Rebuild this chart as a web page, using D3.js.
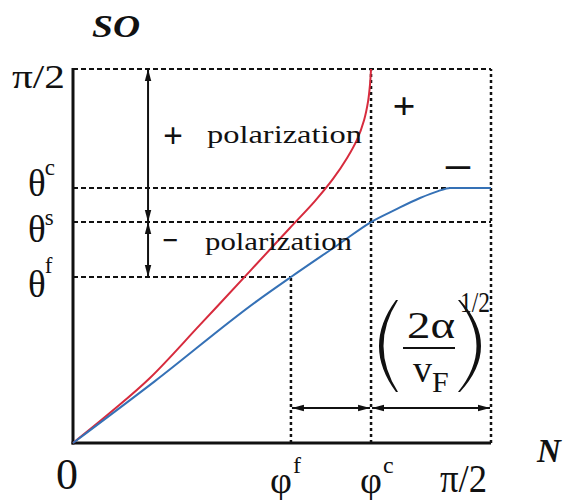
<!DOCTYPE html>
<html>
<head>
<meta charset="utf-8">
<script src="https://cdn.jsdelivr.net/npm/d3@7"></script>
<style>
  body { margin: 0; background: #fff; }
  svg { display: block; }
  text { font-family: "Liberation Serif", "Tinos", "Noto Serif", "FreeSerif", "Nimbus Roman", "Times New Roman", Times, "DejaVu Serif", serif; }
</style>
</head>
<body>
<svg id="chart" width="567" height="500"></svg>
<script>
const HALF_PI = Math.PI / 2;

// characteristic angles (radians)
const phiF = 0.819, phiC = 1.120;
const thetaF = 0.697, thetaS = 0.928, thetaC = 1.071;

// red curve: + polarization branch
const redX = [0, 0.147, 0.289, 0.477, 0.665, 0.815, 0.909, 0.977, 1.030, 1.067, 1.094, 1.109, 1.116, 1.120];
const redY = [0, 0.134, 0.273, 0.496, 0.722, 0.903, 1.016, 1.109, 1.197, 1.273, 1.357, 1.436, 1.504, HALF_PI];

// blue curve: − polarization branch
const blueX = [0, 0.308, 0.691, 0.819, 1.003, 1.120, 1.210, 1.304, 1.372, 1.417, HALF_PI];
const blueY = [0, 0.260, 0.596, 0.697, 0.838, 0.928, 0.979, 1.029, 1.058, 1.071, 1.071];

// tick labels
const xTickValues = [0, phiF, phiC, HALF_PI];
const xTickBase = ["0", "φ", "φ", "π/2"];
const xTickSup = ["", "f", "c", ""];
const yTickValues = [thetaF, thetaS, thetaC, HALF_PI];
const yTickBase = ["θ", "θ", "θ", "π/2"];
const yTickSup = ["f", "s", "c", ""];

const svg = d3.select("#chart");
const x = d3.scaleLinear().domain([0, HALF_PI]).range([73, 491]);
const y = d3.scaleLinear().domain([0, HALF_PI]).range([443, 69]);

// arrow head marker
const defs = svg.append("defs");
defs.append("marker")
  .attr("id", "head")
  .attr("viewBox", "0 -4 12 8")
  .attr("refX", 12).attr("refY", 0)
  .attr("markerWidth", 12).attr("markerHeight", 8)
  .attr("markerUnits", "userSpaceOnUse")
  .attr("orient", "auto-start-reverse")
  .append("path").attr("d", "M0,-3.2L12,0L0,3.2Z").attr("fill", "#111");

// guide lines
const guides = svg.append("g").attr("stroke", "#111").attr("stroke-width", 2).attr("fill", "none");
const hGuides = [[HALF_PI, HALF_PI], [thetaC, HALF_PI], [thetaS, HALF_PI], [thetaF, phiF]];
hGuides.forEach(([v, xEnd]) => {
  guides.append("line")
    .attr("x1", x(0)).attr("x2", x(xEnd))
    .attr("y1", y(v)).attr("y2", y(v))
    .attr("stroke-dasharray", "5,3");
});
const vGuides = [[phiF, thetaF], [phiC, HALF_PI], [HALF_PI, HALF_PI]];
vGuides.forEach(([v, yTop]) => {
  guides.append("line")
    .attr("x1", x(v)).attr("x2", x(v))
    .attr("y1", y(0)).attr("y2", y(yTop))
    .attr("stroke-width", 2.5)
    .attr("stroke-dasharray", "3,3");
});

// axes
const axes = svg.append("g").attr("stroke", "#111").attr("stroke-width", 3);
axes.append("line").attr("x1", x(0)).attr("x2", x(0)).attr("y1", y(0) + 1.5).attr("y2", y(HALF_PI) - 1);
axes.append("line").attr("x1", x(0) - 1.5).attr("x2", x(HALF_PI)).attr("y1", y(0)).attr("y2", y(0));

// curves
const redLine = d3.line().x(d => x(d[0])).y(d => y(d[1])).curve(d3.curveCatmullRom.alpha(0.5));
const blueLine = d3.line().x(d => x(d[0])).y(d => y(d[1])).curve(d3.curveMonotoneX);
svg.append("path").datum(redX.map((v, i) => [v, redY[i]]))
  .attr("d", redLine).attr("fill", "none").attr("stroke", "#d72b3d").attr("stroke-width", 2);
svg.append("path").datum(blueX.map((v, i) => [v, blueY[i]]))
  .attr("d", blueLine).attr("fill", "none").attr("stroke", "#3571b6").attr("stroke-width", 2);

// double-headed arrows
const arrows = svg.append("g").attr("stroke", "#111").attr("stroke-width", 2);
const arrowX = 0.282, arrowY = 0.147;
[[HALF_PI, thetaS], [thetaS, thetaF]].forEach(([a, b]) => {
  arrows.append("line").attr("x1", x(arrowX)).attr("x2", x(arrowX))
    .attr("y1", y(a)).attr("y2", y(b))
    .attr("marker-start", "url(#head)").attr("marker-end", "url(#head)");
});
[[phiF, phiC], [phiC, HALF_PI]].forEach(([a, b]) => {
  arrows.append("line").attr("y1", y(arrowY)).attr("y2", y(arrowY))
    .attr("x1", x(a) + 1).attr("x2", x(b) - 1)
    .attr("marker-start", "url(#head)").attr("marker-end", "url(#head)");
});

// helper for stretched text
function label(g, str, px, py, size, opts = {}) {
  const t = g.append("text").attr("x", px).attr("y", py)
    .attr("font-size", size).text(str);
  if (opts.len) t.attr("textLength", opts.len).attr("lengthAdjust", "spacingAndGlyphs");
  if (opts.anchor) t.attr("text-anchor", opts.anchor);
  if (opts.weight) t.attr("font-weight", opts.weight);
  if (opts.style) t.attr("font-style", opts.style);
  return t;
}

const txt = svg.append("g").attr("fill", "#111");

// axis titles
label(txt, "SO", 92, 37, 31, { len: 48, weight: "bold", style: "italic" });
label(txt, "N", 537, 462, 33, { weight: "bold", style: "italic" });

// y tick labels
const yLayout = [{ dy: 20, supDy: -24 }, { dy: 20, supDy: -17 }, { dy: 8, supDy: -21 }];
yTickValues.forEach((v, i) => {
  if (yTickSup[i]) {
    const L = yLayout[i];
    const t = txt.append("text").attr("x", 28).attr("y", y(v) + L.dy).attr("font-size", 37);
    t.append("tspan").text(yTickBase[i]);
    t.append("tspan").attr("font-size", 23).attr("dy", L.supDy).attr("dx", -1).text(yTickSup[i]);
  } else {
    label(txt, yTickBase[i], x(0) - 8, y(v) + 19, 34, { len: 53, anchor: "end" });
  }
});

// x tick labels
xTickValues.forEach((v, i) => {
  if (i === 0) {
    label(txt, xTickBase[i], x(v) - 6, 489, 44, { anchor: "middle" });
  } else if (xTickSup[i]) {
    const baseX = i === 1 ? x(v) - 21 : x(v) - 11;
    const t = txt.append("text").attr("x", baseX).attr("y", 493).attr("font-size", 38);
    t.append("tspan").text(xTickBase[i]);
    t.append("tspan").attr("font-size", 24).attr("dy", -20).attr("dx", 1).text(xTickSup[i]);
  } else {
    label(txt, xTickBase[i], x(v) - 4, 492, 40, { len: 47, anchor: "end" });
  }
});

// polarization annotations
label(txt, "+", 173, 148, 36, { anchor: "middle", weight: "bold", len: 20 });
label(txt, "polarization", 207, 143, 26, { len: 155 });
label(txt, "−", 170, 251, 32, { anchor: "middle", weight: "bold", len: 16 });
label(txt, "polarization", 205, 250, 26, { len: 147 });
label(txt, "+", 404, 119, 38, { anchor: "middle", weight: "bold", len: 23 });
label(txt, "−", 458, 181, 40, { anchor: "middle", weight: "bold", len: 30 });

// (2α / v_F)^{1/2}
label(txt, "2α", 407, 338, 37, { len: 48 });
svg.append("line").attr("x1", 403).attr("x2", 455).attr("y1", 348).attr("y2", 348)
  .attr("stroke", "#111").attr("stroke-width", 2);
const vf = txt.append("text").attr("x", 413).attr("y", 382).attr("font-size", 38);
vf.append("tspan").text("v");
vf.append("tspan").attr("font-size", 30).attr("dy", 10).text("F");
label(txt, "1/2", 460, 312, 30, { len: 30 });
svg.append("path").attr("fill", "#111")
  .attr("d", "M396,300 Q362,346 396,392 L398,392 Q369,346 398,300 Z");
svg.append("path").attr("fill", "#111")
  .attr("d", "M460,300 Q502,346 460,392 L458,392 Q495,346 458,300 Z");
</script>
</body>
</html>
